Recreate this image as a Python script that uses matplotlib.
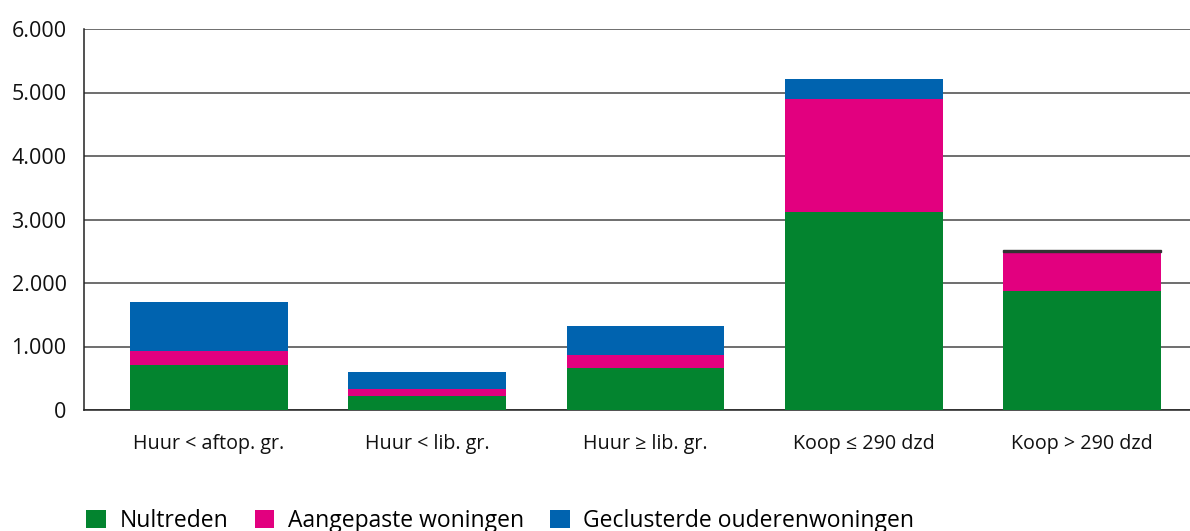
import numpy as np
import matplotlib
matplotlib.use("Agg")
import matplotlib.pyplot as plt
from matplotlib.ticker import FuncFormatter

categories = ["Huur < aftop. gr.", "Huur < lib. gr.", "Huur ≥ lib. gr.", "Koop ≤ 290 dzd", "Koop > 290 dzd"]
nultreden = [705, 220, 660, 3125, 1875]
aangepast = [225, 105, 200, 1770, 620]
geclusterd = [770, 270, 460, 320, 30]
series_names = ["Nultreden", "Aangepaste woningen", "Geclusterde ouderenwoningen"]
colors = ["#03842F", "#E2007F", "#0063AF"]

plt.rcParams["font.family"] = ["Open Sans", "DejaVu Sans"]

fig = plt.figure(figsize=(11.9, 5.31), dpi=100)
ax = fig.add_axes([84 / 1190, 1 - 410 / 531, 1 - 84 / 1190, (410 - 29) / 531])

x = np.arange(len(categories))
bottom = np.zeros(len(categories))
for name, vals, col in zip(series_names, [nultreden, aangepast, geclusterd], colors):
    vals = np.array(vals, dtype=float)
    bars = ax.bar(x, vals, 0.723, bottom=bottom, color=col, label=name, zorder=3)
    # tiny segments show up as a dark line in the original
    for b, v in zip(bars, vals):
        if v < 50:
            b.set_color("#333333")
    bottom += vals

ax.set_xlim(-0.572, 4.494)
ax.set_ylim(0, 6000)
ax.set_yticks(np.arange(0, 6001, 1000))
ax.yaxis.set_major_formatter(FuncFormatter(lambda v, p: f"{int(v):,}".replace(",", ".")))
ax.set_xticks(x)
ax.set_xticklabels(categories)
ax.tick_params(axis="both", length=0, colors="#111111")
ax.tick_params(axis="y", pad=12.5, labelsize=15.5)
ax.tick_params(axis="x", pad=17, labelsize=14.2)
ax.grid(axis="y", color="#555555", linewidth=1.2, zorder=0)
for s in ["top", "right"]:
    ax.spines[s].set_visible(False)
ax.spines["left"].set_color("#222222")
ax.spines["bottom"].set_color("#222222")
ax.spines["left"].set_linewidth(1.1)
ax.spines["bottom"].set_linewidth(1.1)

fig.legend(loc="center left", bbox_to_anchor=(77 / 1190, 1 - 521 / 531), ncol=3, frameon=False,
           handlelength=0.85, handleheight=0.85, handletextpad=0.6, columnspacing=1.15,
           borderaxespad=0, prop={"size": 16.5})

fig.savefig("out.png", dpi=100)
